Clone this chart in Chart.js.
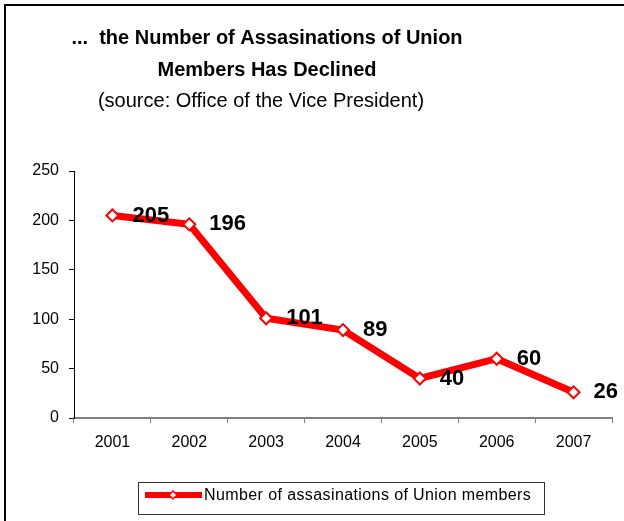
<!DOCTYPE html>
<html>
<head>
<meta charset="utf-8">
<script src="https://cdn.jsdelivr.net/npm/chart.js@4.4.1/dist/chart.umd.min.js"></script>
<style>
  html, body { margin: 0; padding: 0; background: #fff; }
  #wrap { width: 624px; height: 521px; position: relative; }
</style>
</head>
<body>
<div id="wrap"><canvas id="chart"></canvas></div>
<script>
const years = ['2001', '2002', '2003', '2004', '2005', '2006', '2007'];
const killings = [205, 196, 101, 89, 40, 60, 26];
const yTicks = [0, 50, 100, 150, 200, 250];
const titleLines = ['...  the Number of Assasinations of Union', 'Members Has Declined'];
const subtitle = '(source: Office of the Vice President)';
const seriesName = 'Number of assasinations of Union members';

// frame, title, point labels and boxed legend
const extras = {
  id: 'extras',
  afterDraw(chart) {
    const ctx = chart.ctx;
    ctx.save();
    ctx.strokeStyle = '#000';
    ctx.lineWidth = 2;
    ctx.beginPath();
    ctx.moveTo(5, 521);
    ctx.lineTo(5, 5);
    ctx.lineTo(624, 5);
    ctx.stroke();

    ctx.fillStyle = '#000';
    ctx.textAlign = 'center';
    ctx.textBaseline = 'middle';
    ctx.font = 'bold 20px Arial, "Liberation Sans", sans-serif';
    ctx.fillText(titleLines[0], 267, 38);
    ctx.fillText(titleLines[1], 267, 70);
    ctx.font = '20px Arial, "Liberation Sans", sans-serif';
    ctx.fillText(subtitle, 261, 101);

    const meta = chart.getDatasetMeta(0);
    ctx.textAlign = 'left';
    ctx.font = 'bold 22px Arial, "Liberation Sans", sans-serif';
    meta.data.forEach((pt, i) => {
      ctx.fillText(String(killings[i]), pt.x + 20, pt.y);
    });

    // legend box
    ctx.strokeStyle = '#333';
    ctx.lineWidth = 1;
    ctx.strokeRect(138.5, 482.5, 406, 32);
    ctx.strokeStyle = '#ff0000';
    ctx.lineWidth = 6;
    ctx.beginPath();
    ctx.moveTo(145, 495);
    ctx.lineTo(202, 495);
    ctx.stroke();
    ctx.fillStyle = '#fff';
    ctx.lineWidth = 1.5;
    ctx.beginPath();
    ctx.moveTo(173, 491);
    ctx.lineTo(177, 495);
    ctx.lineTo(173, 499);
    ctx.lineTo(169, 495);
    ctx.closePath();
    ctx.fill();
    ctx.stroke();
    ctx.fillStyle = '#000';
    ctx.font = '16px Arial, "Liberation Sans", sans-serif';
    ctx.letterSpacing = '0.4px';
    ctx.textBaseline = 'middle';
    ctx.fillText(seriesName, 204, 496);
    ctx.restore();
  }
};

new Chart(document.getElementById('chart'), {
  type: 'line',
  data: {
    labels: years,
    datasets: [{
      label: seriesName,
      data: killings,
      borderColor: '#ff0000',
      borderWidth: 7,
      tension: 0,
      pointStyle: 'rectRot',
      pointRadius: 6,
      pointBorderWidth: 2,
      pointBackgroundColor: '#ffffff',
      pointBorderColor: '#ff0000'
    }]
  },
  options: {
    responsive: true,
    maintainAspectRatio: false,
    animation: false,
    layout: { padding: { top: 171, right: 12, left: 0, bottom: 0 } },
    plugins: { legend: { display: false }, title: { display: false }, tooltip: { enabled: false } },
    scales: {
      x: {
        offset: true,
        grid: { display: true, drawOnChartArea: false, offset: true, tickLength: 5, color: '#808080' },
        border: { color: '#808080', width: 2 },
        ticks: { color: '#000', font: { family: 'Arial, "Liberation Sans", sans-serif', size: 16 }, padding: 10, maxRotation: 0 },
        afterFit(scale) { scale.height = 103; }
      },
      y: {
        min: 0,
        max: 250,
        afterBuildTicks(scale) { scale.ticks = yTicks.map(v => ({ value: v })); },
        grid: { display: true, drawOnChartArea: false, tickLength: 5, color: '#000' },
        border: { color: '#000', width: 1 },
        ticks: { color: '#000', font: { family: 'Arial, "Liberation Sans", sans-serif', size: 16 }, padding: 10 },
        afterFit(scale) { scale.width = 74; }
      }
    }
  },
  plugins: [extras]
});
</script>
</body>
</html>
